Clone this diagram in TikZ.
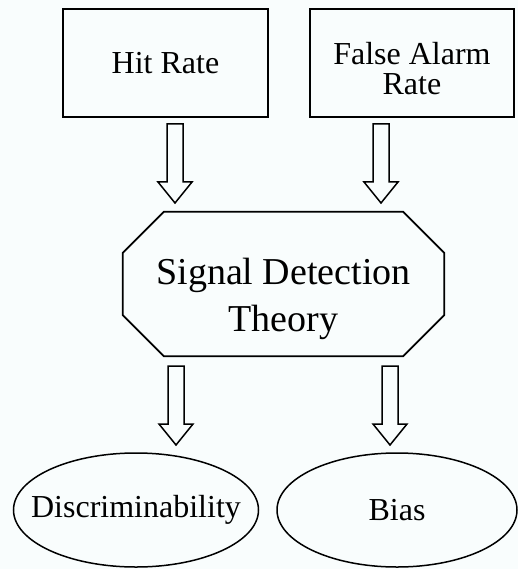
\documentclass[tikz,border=0pt]{standalone}
\usepackage{fontspec}
\setmainfont{Liberation Serif}
\usetikzlibrary{shapes,arrows,positioning,calc}
\definecolor{paper}{RGB}{249,253,253}
\tikzset{block/.style = {draw, rectangle, line width=1.9pt, inner sep=0pt, minimum height=108pt, font=\fontsize{32}{29}\selectfont},
         octo/.style = {rectangle, inner sep=0pt, minimum width=321pt, minimum height=144pt, font=\fontsize{38}{47}\selectfont},
         oval/.style = {draw, ellipse, line width=1.5pt, inner sep=0pt, minimum height=114pt, font=\fontsize{32}{38}\selectfont},
         fatarrow/.style = {draw, line width=1.5pt, to path={let \p1 = (\tikztostart), \p2 = (\tikztotarget) in
           (\x1-8pt,\y1) -- (\x1+8pt,\y1) -- (\x1+8pt,\y2+21pt) -- (\x1+17pt,\y2+21pt) -- (\x2,\y2)
           -- (\x1-17pt,\y2+21pt) -- (\x1-8pt,\y2+21pt) -- cycle}},
}

\begin{document}
\begin{tikzpicture}[x = 1pt, y = -1pt, node distance = 40pt]

  \fill[paper] (0,0) rectangle (518,569);
  \useasboundingbox (0,0) rectangle (518,569);

  \node[block, minimum width = 205pt] (hit) at (165.5,63) {Hit Rate};
  \node[block, minimum width = 204pt, right = of hit] (far)
    {\raisebox{-10pt}[\height][\depth]{\begin{tabular}{@{}c@{}}False Alarm\\Rate\end{tabular}}};
  \node[octo] (sdt) at (283.5,284)
    {\raisebox{-15pt}[\height][\depth]{\begin{tabular}{@{}c@{}}Signal Detection\\Theory\end{tabular}}};
  \node[oval, minimum width = 245pt] (disc) at (136,510) {\makebox[0pt]{Discriminability}};
  \node[oval, minimum width = 240pt] (bias) at (397,510) {\makebox[0pt]{Bias}};

  % octagon round the theory node
  \draw[line width = 1.7pt] ([xshift=41pt]sdt.north west) -- ([xshift=-41pt]sdt.north east)
    -- ([yshift=-41pt]sdt.north east) -- ([yshift=41pt]sdt.south east)
    -- ([xshift=-41pt]sdt.south east) -- ([xshift=41pt]sdt.south west)
    -- ([yshift=41pt]sdt.south west) -- ([yshift=-41pt]sdt.north west) -- cycle;

  \coordinate (a1s) at (175,124);
  \coordinate (a1e) at (175,203);
  \coordinate (a2s) at (381,124);
  \coordinate (a2e) at (381,203);
  \coordinate (a3s) at (176,366);
  \coordinate (a3e) at (176,445);
  \coordinate (a4s) at (390,366);
  \coordinate (a4e) at (390,445);

  \draw[fatarrow] (a1s) to (a1e);
  \draw[fatarrow] (a2s) to (a2e);
  \draw[fatarrow] (a3s) to (a3e);
  \draw[fatarrow] (a4s) to (a4e);

\end{tikzpicture}
\end{document}
